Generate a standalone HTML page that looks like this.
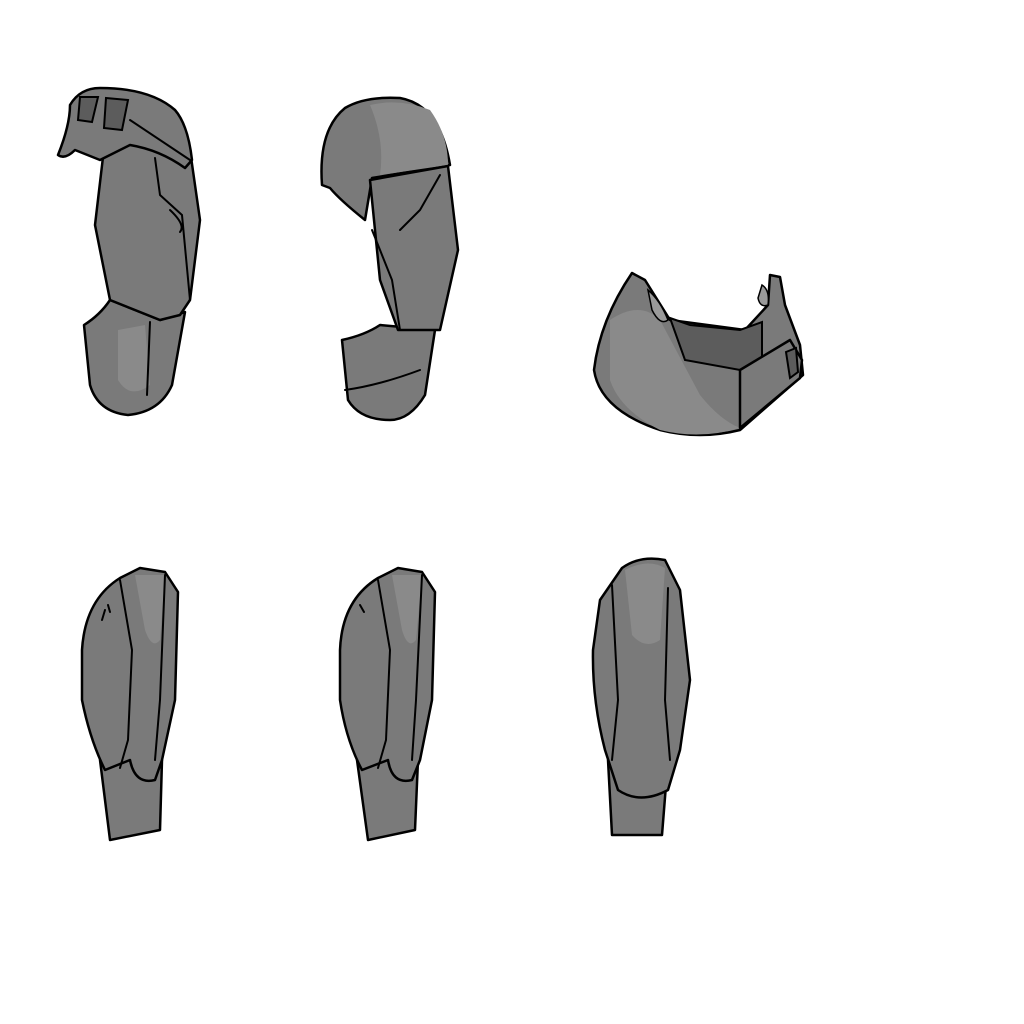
<!DOCTYPE html>
<html><head><meta charset="utf-8"><style>
html,body{margin:0;padding:0;background:#fff}
svg{display:block}
.m{fill:#7a7a7a;stroke:#000;stroke-width:2.5;stroke-linejoin:round}
.l{fill:#8a8a8a;stroke:none}
.d{fill:#5c5c5c;stroke:#000;stroke-width:2}
.s{fill:none;stroke:#000;stroke-width:2;stroke-linecap:round}
.h{fill:#9a9a9a;stroke:#000;stroke-width:1.5}
</style></head><body>
<svg width="1024" height="1024" viewBox="0 0 1024 1024">
<rect width="1024" height="1024" fill="#fff"/>

<g>
<path class="m" d="M84,325 Q100,315 110,300 L160,320 L185,312 L172,385 Q160,412 128,415 Q98,412 90,385 Z"/>
<path class="l" d="M118,330 L145,325 L150,385 Q130,400 118,380 Z"/>
<path class="s" d="M150,322 L147,395"/>
<path class="m" d="M105,140 L160,135 L190,150 L200,220 L190,300 L180,315 L160,320 L110,300 L95,225 Z"/>
<path class="s" d="M155,158 L160,195 L182,215 L190,300 M170,210 Q186,225 180,232"/>
<path class="m" d="M58,155 Q70,125 70,105 Q80,88 100,88 Q150,88 175,110 Q188,125 192,160 L185,168 Q160,150 130,145 L100,160 L75,150 Q65,160 58,155 Z"/>
<path class="d" d="M80,97 L98,97 L92,122 L78,120 Z"/>
<path class="d" d="M106,98 L128,100 L122,130 L104,128 Z"/>
<path class="s" d="M130,120 L190,160"/>
</g>

<g>
<path class="m" d="M322,185 Q318,130 345,108 Q365,96 400,98 Q440,105 450,165 L372,178 L365,220 Q340,200 330,188 Z"/>
<path class="l" d="M370,105 Q400,98 430,110 Q448,135 448,165 L380,175 Q385,140 370,105 Z"/>
<path class="m" d="M342,340 Q365,335 380,325 L435,330 L425,395 Q410,420 390,420 Q360,420 348,400 Z"/>
<path class="s" d="M345,390 Q380,385 420,370"/>
<path class="m" d="M370,180 L448,166 L458,250 L440,330 L398,330 L380,280 Z"/>
<path class="s" d="M372,230 L392,280 L400,330 M440,175 L420,210 L400,230"/>
</g>

<g>
<path class="m" d="M594,370 Q600,320 632,273 L645,280 L670,320 L745,330 L768,305 L770,275 L780,277 L785,305 L800,345 L803,375 L740,430 Q700,440 660,430 Q600,410 594,370 Z"/>
<path class="l" d="M610,320 Q640,300 660,320 L700,395 Q720,420 740,428 Q700,440 660,430 Q620,410 610,380 Z"/>
<path class="d" d="M670,318 L690,325 L740,330 L762,322 L762,360 L740,370 L685,360 Z"/>
<path class="h" d="M648,290 Q660,300 668,320 Q660,326 652,310 Z"/>
<path class="h" d="M762,285 Q770,290 768,305 Q760,308 758,298 Z"/>
<path class="m" d="M740,370 L790,340 L802,360 L800,378 L740,428 Z"/>
<path class="d" d="M786,352 L796,348 L798,372 L790,378 Z"/>
</g>

<g>
<path class="m" d="M100,760 L110,840 L160,830 L162,760 Z"/>
<path class="m" d="M82,650 Q85,600 120,578 L140,568 L165,572 L178,592 L175,700 L162,760 L155,780 Q135,785 130,760 L105,770 Q90,740 82,700 Z"/>
<path class="l" d="M135,575 L165,575 L160,640 Q152,650 145,630 Z"/>
<path class="s" d="M120,580 L132,650 L128,740 L120,768 M165,575 L160,700 L155,760 M102,620 L105,610 M108,605 L110,612"/>
</g>

<g>
<path class="m" d="M357,760 L368,840 L415,830 L418,760 Z"/>
<path class="m" d="M340,650 Q342,600 378,578 L398,568 L422,572 L435,592 L432,700 L420,760 L412,780 Q392,785 388,760 L362,770 Q346,740 340,700 Z"/>
<path class="l" d="M392,575 L422,575 L416,640 Q408,650 402,630 Z"/>
<path class="s" d="M378,580 L390,650 L386,740 L378,768 M422,575 L416,700 L412,760 M360,605 L364,612"/>
</g>

<g>
<path class="m" d="M608,760 L612,835 L662,835 L668,760 Z"/>
<path class="m" d="M600,600 L622,568 Q640,555 665,560 L680,590 L690,680 L680,750 L668,790 Q640,805 618,790 L605,750 Q592,700 593,650 Z"/>
<path class="l" d="M625,570 Q648,558 665,568 L660,640 Q645,650 632,635 Z"/>
<path class="s" d="M612,585 L618,700 L612,760 M668,588 L665,700 L670,760"/>
</g>
</svg>
</body></html>
